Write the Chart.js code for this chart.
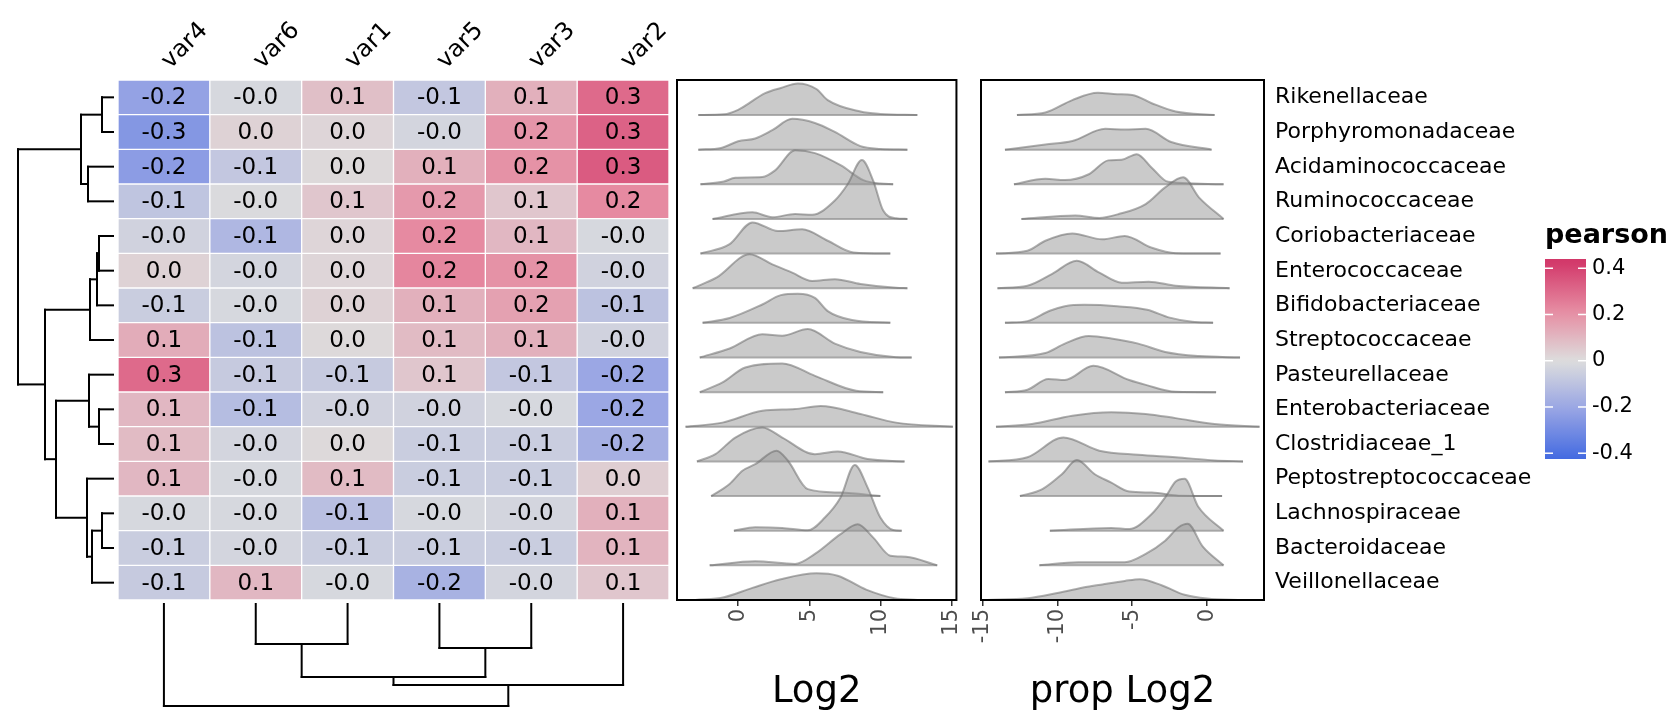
<!DOCTYPE html>
<html>
<head>
<meta charset="utf-8">
<script src="https://cdn.jsdelivr.net/npm/chart.js@4.4.1/dist/chart.umd.min.js"></script>
<style>
  html, body { margin: 0; padding: 0; background: #fff; }
  body { width: 1680px; height: 720px; position: relative; overflow: hidden; font-family: "DejaVu Sans", sans-serif; }
  .box { position: absolute; top: 0; height: 720px; }
</style>
</head>
<body>
<div class="box" id="heatBox" style="left:0;width:680px"><canvas id="heat"></canvas></div>
<div class="box" id="r1Box" style="left:660px;width:320px"><canvas id="ridge1"></canvas></div>
<div class="box" id="r2Box" style="left:965px;width:715px"><canvas id="ridge2"></canvas></div>
<script>
// ---- data ----
const colLabels = ["var4", "var6", "var1", "var5", "var3", "var2"];
const rowLabels = ["Rikenellaceae", "Porphyromonadaceae", "Acidaminococcaceae", "Ruminococcaceae",
  "Coriobacteriaceae", "Enterococcaceae", "Bifidobacteriaceae", "Streptococcaceae", "Pasteurellaceae",
  "Enterobacteriaceae", "Clostridiaceae_1", "Peptostreptococcaceae", "Lachnospiraceae", "Bacteroidaceae",
  "Veillonellaceae"];

// pearson values, rows x columns (column order as shown)
const pearson = [
  [-0.22, -0.02,  0.08, -0.08,  0.12,  0.30],
  [-0.26,  0.03,  0.02, -0.03,  0.19,  0.32],
  [-0.24, -0.08,  0.01,  0.12,  0.20,  0.34],
  [-0.09, -0.01,  0.06,  0.18,  0.06,  0.22],
  [-0.04, -0.14,  0.02,  0.22,  0.10, -0.02],
  [ 0.03, -0.03,  0.02,  0.23,  0.20, -0.04],
  [-0.06, -0.02,  0.03,  0.12,  0.16, -0.10],
  [ 0.13, -0.10,  0.01,  0.09,  0.12, -0.04],
  [ 0.30, -0.07, -0.07,  0.06, -0.08, -0.20],
  [ 0.10, -0.12, -0.04, -0.04, -0.02, -0.20],
  [ 0.09, -0.03,  0.01, -0.06, -0.06, -0.17],
  [ 0.10, -0.02,  0.09, -0.06, -0.06,  0.04],
  [-0.02, -0.02, -0.11, -0.02, -0.03,  0.12],
  [-0.06, -0.03, -0.06, -0.06, -0.06,  0.11],
  [-0.07,  0.10, -0.02, -0.16, -0.03,  0.06]
];

// hclust-style merges: negative = leaf (1-based), positive = earlier merge; plus merge heights
const rowMerges = [[-1,-2],[-3,-4],[1,2],[-5,-6],[4,-7],[5,-8],[-10,-11],[-9,7],[-13,-14],[9,-15],[-12,10],[8,11],[6,12],[3,13]];
const rowHeights = [11, 25, 32, 14, 16, 23, 14, 24, 11, 21, 26, 57, 68, 95];
const colMerges = [[-2,-3],[-4,-5],[1,2],[3,-6],[-1,4]];
const colHeights = [40, 44, 73, 81, 102];

// density ridges: [x, relative height] per row
const log2Curves = [
  [[-2.8,0],[-1,0.02],[0,0.15],[1.9,0.63],[3,0.78],[4.2,0.91],[5.5,0.75],[6.3,0.43],[8.6,0.1],[10,0.03],[12.6,0]],
  [[-2.8,0],[-1.2,0.05],[0,0.24],[1.2,0.32],[2.4,0.56],[3.8,0.89],[5.4,0.77],[6.8,0.51],[8.6,0.1],[10,0.02],[11.9,0]],
  [[-2.65,0],[-1,0.08],[-0.2,0.19],[1.7,0.21],[2.6,0.4],[4,0.98],[5.4,0.9],[7.2,0.55],[8.8,0.12],[10,0.02],[10.9,0]],
  [[-1.8,0],[1,0.19],[2.4,0.05],[4,0.14],[5.2,0.12],[6.8,0.53],[7.7,1.0],[8.7,1.7],[9.5,1.1],[10.2,0.24],[11.1,0.02],[11.9,0]],
  [[-2.65,0],[-0.6,0.27],[1,0.9],[2.8,0.65],[4.5,0.7],[6.3,0.37],[8.1,0.03],[10.7,0]],
  [[-3.2,0],[-1.5,0.31],[0.8,0.98],[2.4,0.69],[3.8,0.45],[5.2,0.21],[6.8,0.26],[8.6,0.12],[11.1,0.01],[11.9,0]],
  [[-2.5,0],[-0.6,0.14],[1.7,0.53],[3,0.8],[4.2,0.84],[5.4,0.72],[6.3,0.34],[8,0.08],[10.7,0]],
  [[-2.7,0],[-0.6,0.26],[1.7,0.67],[3.1,0.63],[4.9,0.82],[6.8,0.4],[8.6,0.16],[11.1,0.01],[12.2,0]],
  [[-2.7,0],[-1.1,0.28],[0.5,0.71],[3.1,0.83],[5.4,0.47],[8.3,0.04],[10.2,0]],
  [[-3.7,0],[-1.1,0.12],[1.7,0.46],[4,0.51],[5.8,0.6],[8.6,0.37],[11.1,0.12],[15.1,0]],
  [[-2.9,0],[-1.6,0.21],[-0.2,0.69],[1.7,0.98],[3.1,0.69],[5.4,0.21],[7,0.29],[9.1,0.07],[11.7,0]],
  [[-1.9,0],[-0.6,0.35],[0.3,0.73],[1.2,0.92],[2.7,1.31],[3.5,1.02],[4.9,0.2],[7.2,0.1],[10,0]],
  [[-0.3,0],[1.2,0.1],[3.1,0.08],[4.9,0.01],[6.1,0.38],[7.2,0.96],[8.2,1.9],[9.1,1.25],[10,0.38],[10.9,0.02],[11.5,0]],
  [[-2,0],[1.2,0.12],[4,0.04],[5.4,0.33],[7.2,0.9],[8.4,1.19],[9.5,0.8],[10.7,0.28],[11.8,0.25],[14,0]],
  [[-3,0],[-1,0.08],[1,0.35],[3,0.6],[5.5,0.77],[7,0.7],[9,0.3],[11,0.05],[12.6,0]]
];
const propCurves = [
  [[-12.7,0],[-10.8,0.07],[-9,0.43],[-7.3,0.64],[-6,0.6],[-5,0.58],[-3.7,0.34],[-2.1,0.1],[0.5,0]],
  [[-13.5,0],[-10.8,0.15],[-9,0.25],[-6.8,0.6],[-5.5,0.58],[-4.1,0.6],[-2.4,0.22],[0.3,0]],
  [[-12.9,0],[-10.8,0.16],[-9.5,0.12],[-7.9,0.29],[-6.6,0.69],[-5.7,0.71],[-4.7,0.87],[-3.7,0.48],[-2.6,0.07],[1.1,0]],
  [[-12.4,0],[-8.8,0.1],[-7.2,0.03],[-5.9,0.14],[-4.1,0.43],[-2.8,0.91],[-1.6,1.2],[-0.5,0.6],[1.1,0]],
  [[-14.1,0],[-12,0.08],[-10.8,0.37],[-9,0.58],[-7,0.41],[-5.5,0.51],[-3.7,0.17],[-2.1,0.01],[0.9,0]],
  [[-14,0],[-12,0.07],[-10.4,0.4],[-8.7,0.79],[-7.2,0.45],[-5.7,0.16],[-3.9,0.19],[-2.1,0.07],[1.5,0]],
  [[-13.5,0],[-12,0.05],[-10.5,0.35],[-9.5,0.48],[-8.2,0.52],[-6,0.48],[-4,0.38],[-2.5,0.15],[-1,0.03],[0.4,0]],
  [[-13.9,0],[-10.8,0.13],[-9.5,0.4],[-7.9,0.62],[-6.4,0.55],[-4.6,0.4],[-2.8,0.16],[-0.5,0.04],[2.2,0]],
  [[-13.5,0],[-12,0.07],[-10.6,0.38],[-9.5,0.35],[-7.6,0.76],[-5.2,0.35],[-4.1,0.21],[-2.1,0.01],[0.6,0]],
  [[-14.1,0],[-11.7,0.08],[-9,0.32],[-6.4,0.42],[-4.1,0.37],[-2.1,0.25],[0.5,0.08],[3.5,0]],
  [[-14.6,0],[-12,0.12],[-9.6,0.69],[-7.2,0.31],[-4.6,0.19],[-2.1,0.12],[0.5,0.03],[2.4,0]],
  [[-12.5,0],[-11,0.2],[-9.7,0.63],[-8.7,1.04],[-7.5,0.63],[-6.4,0.39],[-5.2,0.13],[-3.7,0.1],[-1.7,0.01],[1,0]],
  [[-10.5,0],[-6.4,0.08],[-5.2,0.05],[-3.7,0.48],[-2.8,0.96],[-2.1,1.42],[-1.5,1.5],[-0.6,0.7],[1.1,0]],
  [[-11.2,0],[-8.6,0.09],[-5.5,0.09],[-4.1,0.33],[-2.8,0.71],[-1.9,1.1],[-1.3,1.2],[-0.3,0.55],[1.1,0]],
  [[-14.7,0],[-12,0.05],[-10,0.2],[-8,0.38],[-7,0.45],[-5.5,0.55],[-4.5,0.6],[-3,0.42],[-1.5,0.15],[0,0.04],[2.4,0]]
];
const log2Ticks = [0, 5, 10, 15];
const propTicks = [-15, -10, -5, 0];
const legendTicks = [0.4, 0.2, 0, -0.2, -0.4];

// ---- helpers ----
const FONT = "DejaVu Sans";
// colour ramp stops from blue (-lim) through grey (0) to red (+lim)
const rampStops = [
  [-1, [65, 105, 225]], [-0.5, [150, 163, 228]], [0, [221, 221, 221]],
  [0.5, [230, 140, 162]], [1, [210, 55, 105]]
];
const cLim = 0.43;
function pearsonColor(v) {
  const t = Math.max(-1, Math.min(1, v / cLim));
  let k = 0;
  while (k < rampStops.length - 2 && t > rampStops[k + 1][0]) k++;
  const [t0, c0] = rampStops[k], [t1, c1] = rampStops[k + 1];
  const f = (t - t0) / (t1 - t0);
  const c = c0.map((m, i) => Math.round(m + (c1[i] - m) * f));
  return `rgb(${c[0]},${c[1]},${c[2]})`;
}

// draws an hclust-like tree; leafPos gives pixel position of leaf k, hPix maps height -> pixel
function drawDendro(ctx, merges, heights, leafPos, hPix, horizontal) {
  const nodes = [];
  const get = r => r < 0 ? { pos: leafPos(-r - 1), h: 0 } : nodes[r - 1];
  const seg = (p1, h1, p2, h2) => {
    ctx.beginPath();
    if (horizontal) { ctx.moveTo(hPix(h1), p1); ctx.lineTo(hPix(h2), p2); }
    else { ctx.moveTo(p1, hPix(h1)); ctx.lineTo(p2, hPix(h2)); }
    ctx.stroke();
  };
  merges.forEach((m, i) => {
    const A = get(m[0]), B = get(m[1]), h = heights[i];
    seg(A.pos, A.h, A.pos, h);
    seg(B.pos, B.h, B.pos, h);
    seg(A.pos, h, B.pos, h);
    nodes.push({ pos: (A.pos + B.pos) / 2, h });
  });
}

// ---- heatmap ----
const nRows = rowLabels.length;
const heatDatasets = rowLabels.map((r, i) => ({
  label: r,
  data: colLabels.map(() => [nRows - 1 - i, nRows - i]),
  backgroundColor: colLabels.map((c, j) => pearsonColor(pearson[i][j])),
  borderColor: "#ffffff",
  borderWidth: 1,
  borderSkipped: false,
  barPercentage: 1,
  categoryPercentage: 1,
  grouped: false
}));

const heatExtras = {
  id: "heatExtras",
  afterDatasetsDraw(chart) {
    const { ctx, chartArea: a, scales: { x, y } } = chart;
    ctx.save();
    ctx.fillStyle = "#000";
    ctx.font = `23px "${FONT}"`;
    ctx.textAlign = "center";
    ctx.textBaseline = "middle";
    pearson.forEach((row, i) => row.forEach((v, j) => {
      ctx.fillText(v.toFixed(1), x.getPixelForValue(j), y.getPixelForValue(nRows - 0.5 - i) + 1);
    }));
    // column labels
    ctx.font = `24px "${FONT}"`;
    ctx.textAlign = "left";
    colLabels.forEach((c, j) => {
      ctx.save();
      ctx.translate(x.getPixelForValue(j) + 2, a.top - 15);
      ctx.rotate(-Math.PI / 4);
      ctx.fillText(c, 0, 0);
      ctx.restore();
    });
    // dendrograms
    ctx.strokeStyle = "#000";
    ctx.lineWidth = 2;
    ctx.lineCap = "square";
    drawDendro(ctx, rowMerges, rowHeights, k => y.getPixelForValue(nRows - 0.5 - k), h => a.left - 5 - h, true);
    drawDendro(ctx, colMerges, colHeights, k => x.getPixelForValue(k), h => a.bottom + 4 + h, false);
    ctx.restore();
  }
};

new Chart(document.getElementById("heat"), {
  type: "bar",
  data: { labels: colLabels, datasets: heatDatasets },
  options: {
    responsive: true, maintainAspectRatio: false, animation: false,
    layout: { padding: { left: 118, right: 11, top: 80, bottom: 120 } },
    plugins: { legend: { display: false }, tooltip: { enabled: false } },
    scales: {
      x: { display: false, offset: true },
      y: { display: false, min: 0, max: nRows }
    }
  },
  plugins: [heatExtras]
});

// ---- ridges ----
function ridgeDatasets(curves) {
  const ds = [];
  curves.forEach((pts, i) => {
    const base = nRows - 1 - i;
    ds.push({
      data: pts.map(p => ({ x: p[0], y: base + p[1] })),
      fill: { value: base },
      backgroundColor: "rgba(150,150,150,0.5)",
      borderColor: "rgba(110,110,110,0.55)",
      borderWidth: 2,
      pointRadius: 0,
      cubicInterpolationMode: "monotone",
      order: nRows - 1 - i
    });
    ds.push({
      data: [{ x: pts[0][0], y: base }, { x: pts[pts.length - 1][0], y: base }],
      fill: false,
      borderColor: "rgba(110,110,110,0.55)",
      borderWidth: 2,
      pointRadius: 0,
      order: nRows - 1 - i
    });
  });
  return ds;
}

function ridgePanel(extra) {
  return {
    id: "ridgePanel",
    afterDatasetsDraw(chart) {
      const { ctx, chartArea: a } = chart;
      ctx.save();
      ctx.strokeStyle = "#000";
      ctx.lineWidth = 2;
      ctx.strokeRect(a.left, a.top, a.right - a.left, a.bottom - a.top);
      ctx.fillStyle = "#000";
      ctx.font = `37px "${FONT}"`;
      ctx.textAlign = "center";
      ctx.textBaseline = "middle";
      ctx.fillText(chart.options.plugins.axisTitle, (a.left + a.right) / 2, 692);
      if (extra) extra(chart);
      ctx.restore();
    }
  };
}

function ridgeOptions(min, max, ticks, title, left, right) {
  return {
    responsive: true, maintainAspectRatio: false, animation: false,
    layout: { padding: { left, right, top: 80, bottom: 70 } },
    plugins: { legend: { display: false }, tooltip: { enabled: false }, axisTitle: title },
    scales: {
      x: {
        type: "linear", min, max,
        afterBuildTicks: s => { s.ticks = ticks.map(v => ({ value: v })); },
        afterFit: s => { s.height = 50; },
        border: { display: false },
        grid: { display: true, drawOnChartArea: false, drawTicks: true, tickLength: 6, color: "#333", lineWidth: 1.5 },
        ticks: { minRotation: 90, maxRotation: 90, color: "#4d4d4d", font: { family: FONT, size: 21 }, padding: 3 }
      },
      y: { display: false, min: 0, max: nRows + 0.01 }
    }
  };
}

new Chart(document.getElementById("ridge1"), {
  type: "line",
  data: { datasets: ridgeDatasets(log2Curves) },
  options: ridgeOptions(-4.3, 15.35, log2Ticks, "Log2", 17, 19),
  plugins: [ridgePanel()]
});

function labelsAndLegend(chart) {
  const { ctx, chartArea: a, scales: { y } } = chart;
  ctx.font = `22px "${FONT}"`;
  ctx.textAlign = "left";
  ctx.textBaseline = "middle";
  rowLabels.forEach((r, i) => ctx.fillText(r, a.right + 11, y.getPixelForValue(nRows - 0.5 - i)));
  // colour legend
  const lx = a.right + 281, top = 259, bot = 459, w = 41, vTop = 0.44, vBot = -0.425;
  const vy = v => top + (vTop - v) / (vTop - vBot) * (bot - top);
  const g = ctx.createLinearGradient(0, top, 0, bot);
  for (let k = 0; k <= 40; k++) {
    const v = vTop - (vTop - vBot) * k / 40;
    g.addColorStop(k / 40, pearsonColor(v));
  }
  ctx.fillStyle = g;
  ctx.fillRect(lx, top, w, bot - top);
  ctx.strokeStyle = "#fff";
  ctx.lineWidth = 1.5;
  legendTicks.forEach(v => {
    const yy = vy(v);
    ctx.beginPath(); ctx.moveTo(lx, yy); ctx.lineTo(lx + 8, yy); ctx.stroke();
    ctx.beginPath(); ctx.moveTo(lx + w - 8, yy); ctx.lineTo(lx + w, yy); ctx.stroke();
  });
  ctx.fillStyle = "#000";
  ctx.font = `21px "${FONT}"`;
  legendTicks.forEach(v => ctx.fillText(v === 0 ? "0" : v.toFixed(1), lx + w + 6, vy(v)));
  ctx.font = `bold 27px "${FONT}"`;
  ctx.textBaseline = "alphabetic";
  ctx.fillText("pearson", lx, 243);
}

new Chart(document.getElementById("ridge2"), {
  type: "line",
  data: { datasets: ridgeDatasets(propCurves) },
  options: ridgeOptions(-15.1, 3.8, propTicks, "prop Log2", 16, 416),
  plugins: [ridgePanel(labelsAndLegend)]
});
</script>
</body>
</html>
